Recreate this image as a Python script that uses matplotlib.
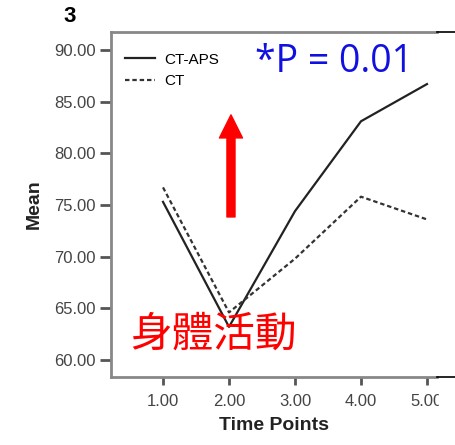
import matplotlib.pyplot as plt
from matplotlib.patches import Rectangle
from matplotlib.lines import Line2D

# data
time_points = [1, 2, 3, 4, 5]
ct_aps = [75.3, 63.2, 74.4, 83.1, 86.7]
ct = [76.7, 64.6, 69.8, 75.8, 73.6]
y_ticks = [60, 65, 70, 75, 80, 85, 90]
x_ticks = [1, 2, 3, 4, 5]

plt.rcParams['font.family'] = ['Liberation Sans', 'DejaVu Sans']

fig = plt.figure(figsize=(4.56, 4.45), dpi=100)
ax = fig.add_axes([111 / 456, 68 / 445, (438 - 111) / 456, (377 - 32) / 445])

ax.plot(time_points, ct_aps, color='#222222', lw=1.6, label='CT-APS')
ax.plot(time_points, ct, color='#333333', lw=1.6, linestyle=(0, (2, 1.3)), label='CT')

ax.set_xlim(0.212, 5.167)
ax.set_ylim(58.35, 91.74)
ax.set_xticks(x_ticks)
ax.set_xticklabels([f'{v:.2f}' for v in x_ticks])
ax.set_yticks(y_ticks)
ax.set_yticklabels([f'{v:.2f}' for v in y_ticks])

ax.tick_params(axis='both', colors='#555555', labelcolor='#444444', labelsize=12, width=2)
ax.tick_params(axis='y', length=8, pad=3)
ax.tick_params(axis='x', length=6, pad=6)

for side in ['left', 'bottom', 'top']:
    ax.spines[side].set_color('#888888')
    ax.spines[side].set_linewidth(2)
ax.spines['right'].set_visible(False)

ax.set_xlabel('Time Points', fontsize=14, fontweight='bold', color='#222222', labelpad=6)
ax.set_ylabel('Mean', fontsize=14, fontweight='bold', color='#222222', labelpad=8)

leg = ax.legend(loc='upper left', bbox_to_anchor=(0.0, 0.98), frameon=False,
                fontsize=11, handlelength=2.0, handletextpad=0.6, labelspacing=0.5)

# annotations
ax.text(2.39, 88.8, '*P = 0.01', color='#1010e0', fontsize=27, va='center',
        family=['Open Sans', 'DejaVu Sans'])
ax.text(0.50, 62.4, '身體活動', color='red', fontsize=30, va='center',
        family=['Noto Sans CJK TC', 'DejaVu Sans'])
ax.annotate('', xy=(2.03, 83.72), xytext=(2.03, 73.84),
            arrowprops=dict(arrowstyle='simple,head_length=1.66,head_width=1.66,tail_width=0.58',
                            color='red', mutation_scale=10, shrinkA=0, shrinkB=0))

fig.text(70 / 456, 1 - 17 / 445, '3', fontsize=16, fontweight='bold', ha='center', va='center')

# cropped right edge
fig.add_artist(Rectangle((439 / 456, 0), 17 / 456, 1, transform=fig.transFigure,
                         color='white', zorder=5))
fig.add_artist(Line2D([437 / 456, 1], [1 - 32 / 445] * 2, transform=fig.transFigure,
                      color='black', lw=1.2, zorder=6))
fig.add_artist(Line2D([437 / 456, 1], [1 - 377 / 445] * 2, transform=fig.transFigure,
                      color='black', lw=1.2, zorder=6))

fig.savefig('out.png', dpi=100)
